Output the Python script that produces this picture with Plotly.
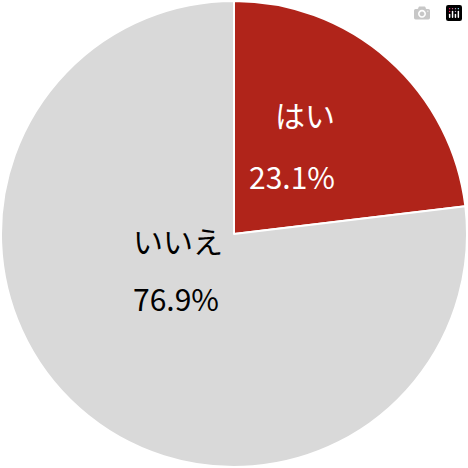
import plotly.graph_objects as go

labels = ["はい", "いいえ"]
values = [23.1, 76.9]
colors = ["#B0241A", "#D9D9D9"]
text_colors = ["white", "black"]
# label positions in paper coordinates (name line, percent line)
label_pos = [(0.722, 0.808, 0.675), (0.278, 0.487, 0.363)]

fig = go.Figure(go.Pie(
    labels=labels,
    values=values,
    sort=False,
    direction="clockwise",
    rotation=0,
    marker=dict(colors=colors, line=dict(color="white", width=2)),
    textinfo="none",
    hoverinfo="skip",
))

for lab, val, col, (x, y1, y2) in zip(labels, values, text_colors, label_pos):
    font = dict(family="Noto Sans CJK JP", size=30, color=col)
    fig.add_annotation(x=x, y=y1, xref="paper", yref="paper", text=lab,
                       showarrow=False, font=font)
    fig.add_annotation(x=x, y=y2, xref="paper", yref="paper", text=f"{val:.1f}%",
                       showarrow=False, font=font)

fig.update_layout(
    width=468, height=468,
    margin=dict(l=1, r=1, t=1, b=1),
    showlegend=False,
    paper_bgcolor="white",
)

fig.write_html("out.html", post_script="document.body.style.margin='0';")
